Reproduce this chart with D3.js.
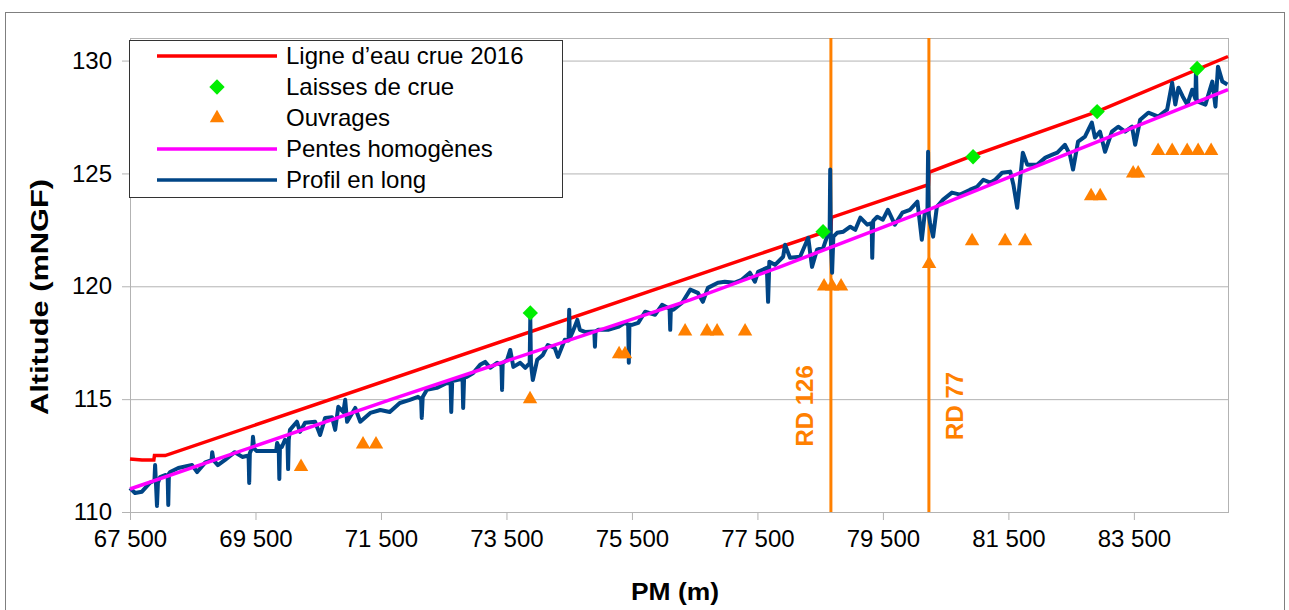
<!DOCTYPE html>
<meta charset="utf-8">
<style>
  body { margin: 0; background: #fff; }
  svg text { font-family: "Liberation Sans", Arial, sans-serif; }
</style>
<svg width="1289" height="610"></svg>
<script src="https://cdnjs.cloudflare.com/ajax/libs/d3/7.8.5/d3.min.js"></script>
<script>

// --- data ---
var xTicks = [67500, 69500, 71500, 73500, 75500, 77500, 79500, 81500, 83500];
var yTicks = [110, 115, 120, 125, 130];

// Ligne d'eau crue 2016
var ligneEau = [[67500,112.35],[67690,112.3],[67880,112.3],[67890,112.5],[68060,112.5],
  [78670,122.5],[78680,123.05],[80225,124.5],[80235,125.05],[80890,125.74],[82914,127.74],[85000,130.18]];

// Laisses de crue
var laisses = [[73880,118.82],[78546,122.42],[80937,125.74],[82914,127.74],[84508,129.65]];

// Ouvrages
var ouvrages = [[70226,112],[71214,113],[71421,113],[73876,115],[75295,117],[75390,117],
  [76347,118],[76697,118],[76857,118],[77303,118],[78562,120],[78690,120],[78833,120],
  [80236,121],[80921,122],[81447,122],[81766,122],[82818,124],[82962,124],[83488,125],[83568,125],
  [83886,126],[84110,126],[84349,126],[84524,126],[84731,126]];

// Pentes homogènes
var pentes = [[67500,111.02],[71640,114.97],[76430,119.4],[77860,120.86],[80220,123.39],[82914,126.4],[85000,128.71]];

// Profil en long
var profil = [[67500,111.06],[67580,110.84],[67690,110.9],[67820,111.3],[67890,111.4],[67900,112.08],[67915,111.2],
  [67930,110.27],[67945,111.3],[67980,111.55],[68060,111.64],[68100,111.6],[68110,110.31],[68120,111.7],[68140,111.77],
  [68270,111.95],[68490,112.08],[68570,111.77],[68700,112.2],[68800,112.3],[68810,112.65],[68830,112.3],[68900,112.08],
  [69010,112.3],[69170,112.65],[69290,112.44],[69390,112.5],[69400,111.29],[69410,112.6],[69450,112.88],[69460,113.33],
  [69480,112.8],[69520,112.7],[69830,112.7],[69845,113.06],[69870,112.9],[69880,111.46],[69890,112.9],[69920,112.88],
  [69970,113.2],[70010,113.1],[70020,111.9],[70030,113.2],[70050,113.64],[70160,114.0],[70210,113.55],[70290,113.95],
  [70450,114.0],[70530,113.41],[70610,114.17],[70720,114.2],[70770,113.64],[70820,114.66],[70900,114.43],[70930,114.97],
  [70960,114.0],[71090,114.61],[71170,114.0],[71330,114.39],[71490,114.52],[71640,114.43],[71800,114.83],[71960,114.97],
  [72090,115.1],[72140,115.0],[72150,114.17],[72165,115.1],[72230,115.41],[72390,115.5],[72550,115.72],[72610,115.7],
  [72620,114.43],[72635,115.8],[72710,115.85],[72800,115.9],[72810,114.61],[72825,115.95],[72870,115.99],[72970,116.16],
  [73080,116.52],[73160,116.65],[73240,116.39],[73350,116.61],[73420,116.5],[73430,115.41],[73440,116.6],[73510,116.74],
  [73560,117.18],[73610,116.43],[73720,116.61],[73800,116.39],[73870,116.6],[73880,118.6],[73890,116.6],[73920,115.85],
  [73990,116.74],[74080,116.96],[74160,117.4],[74270,117.27],[74320,116.87],[74430,117.63],[74490,117.6],[74500,118.96],
  [74510,117.7],[74550,117.94],[74630,118.51],[74670,118.07],[74750,117.98],[74900,118.0],[74910,117.32],[74920,118.0],
  [74960,118.07],[75120,118.07],[75280,118.2],[75390,118.38],[75440,118.3],[75450,116.61],[75460,118.3],[75500,118.29],
  [75600,118.38],[75710,118.87],[75870,118.74],[75980,119.18],[76100,119.0],[76110,118.07],[76120,119.0],[76160,118.96],
  [76300,119.27],[76430,119.85],[76550,119.71],[76630,119.31],[76710,119.93],[76870,120.16],[76980,120.2],[77140,120.16],
  [77250,120.29],[77380,120.6],[77460,120.2],[77510,120.64],[77650,120.82],[77670,119.31],[77690,121.09],[77780,120.95],
  [77910,121.31],[77940,121.84],[78020,121.26],[78180,121.31],[78310,122.15],[78370,120.86],[78450,121.62],[78550,121.71],
  [78630,122.37],[78650,122.2],[78660,125.17],[78670,122.0],[78690,120.6],[78710,122.2],[78770,122.37],[78870,122.42],
  [78980,122.64],[79060,122.5],[79140,123.04],[79250,122.73],[79320,122.8],[79330,121.26],[79345,122.9],[79410,123.08],
  [79500,122.95],[79580,123.39],[79690,122.73],[79810,123.26],[79930,123.39],[80050,123.75],[80120,122.06],[80170,123.3],
  [80210,123.4],[80220,125.96],[80230,123.2],[80250,122.82],[80300,122.2],[80360,123.52],[80460,123.84],[80600,124.15],
  [80730,124.06],[80890,124.28],[81000,124.41],[81100,124.72],[81210,124.59],[81290,124.72],[81400,125.03],[81530,125.08],
  [81580,124.5],[81640,123.48],[81690,124.81],[81730,125.92],[81800,125.39],[81960,125.39],[82090,125.7],[82200,125.83],
  [82280,125.92],[82400,126.27],[82480,125.83],[82530,125.17],[82610,126.41],[82720,126.63],[82830,127.25],[82880,126.59],
  [82960,126.85],[83040,125.96],[83150,126.85],[83250,127.07],[83360,126.85],[83470,127.07],[83520,126.27],[83600,127.38],
  [83730,127.69],[83890,127.52],[84030,127.83],[84110,129.02],[84160,128.05],[84210,128.8],[84280,128.4],[84350,128.05],
  [84430,128.71],[84480,128.3],[84490,129.6],[84500,128.3],[84520,128.18],[84640,128.05],[84750,129.07],[84800,127.96],
  [84840,129.73],[84910,129.07],[84990,128.94]];

// Routes (vertical markers)
var routes = [{nom: "RD 126", pm: 78671, dx: -18}, {nom: "RD 77", pm: 80233, dx: 34}];

// --- layout ---
var svg = d3.select("svg"),
    margin = {top: 38, right: 61, bottom: 98, left: 130},
    width = +svg.attr("width") - margin.left - margin.right,
    height = +svg.attr("height") - margin.top - margin.bottom;

// outer frame
svg.append("rect")
    .attr("x", 5.5).attr("y", 12.5)
    .attr("width", 1279).attr("height", 640)
    .attr("fill", "none").attr("stroke", "#7f7f7f");

var g = svg.append("g").attr("transform", "translate(" + margin.left + "," + margin.top + ")");

var x = d3.scaleLinear().domain([67500, 85000]).range([0, width]);
var y = d3.scaleLinear().domain([110, 131]).range([height, 0]);

var fr = d3.formatLocale({decimal: ",", thousands: " ", grouping: [3], currency: ["", ""]});
var fmt = fr.format(",d");

// plot frame (top / right)
g.append("rect")
    .attr("x", 0.5).attr("y", 0.5)
    .attr("width", width).attr("height", height)
    .attr("fill", "none").attr("stroke", "#b3b3b3");

// horizontal gridlines
g.append("g")
    .attr("class", "grid")
    .call(d3.axisLeft(y).tickValues(yTicks).tickSize(-width).tickFormat(""))
    .call(function(s) {
        s.select(".domain").remove();
        s.selectAll("line").attr("stroke", "#b3b3b3");
    });

// y axis
g.append("g")
    .call(d3.axisLeft(y).tickValues(yTicks).tickSize(8).tickPadding(10).tickFormat(d3.format("d")))
    .call(function(s) {
        s.select(".domain").attr("stroke", "#b3b3b3").attr("d", "M0.5," + height + "V0");
        s.selectAll("line").attr("stroke", "#b3b3b3");
        s.selectAll("text").attr("font-size", "24px").attr("fill", "#000").attr("font-family", "Liberation Sans, Arial, sans-serif");
    });

// x axis
g.append("g")
    .attr("transform", "translate(0," + height + ")")
    .call(d3.axisBottom(x).tickValues(xTicks).tickSize(8).tickPadding(10).tickFormat(fmt))
    .call(function(s) {
        s.select(".domain").attr("stroke", "#b3b3b3").attr("d", "M0,0.5H" + width);
        s.selectAll("line").attr("stroke", "#b3b3b3");
        s.selectAll("text").attr("font-size", "24px").attr("fill", "#000").attr("font-family", "Liberation Sans, Arial, sans-serif");
    });

// axis titles
g.append("text")
    .attr("transform", "translate(" + (-82) + "," + (height / 2 + 22) + ") rotate(-90)")
    .attr("text-anchor", "middle")
    .attr("font-size", "24px").attr("font-weight", "bold")
    .attr("textLength", 236).attr("lengthAdjust", "spacingAndGlyphs")
    .text("Altitude (mNGF)");

g.append("text")
    .attr("x", width / 2 - 4).attr("y", height + 88)
    .attr("text-anchor", "middle")
    .attr("font-size", "24px").attr("font-weight", "bold")
    .attr("textLength", 88).attr("lengthAdjust", "spacingAndGlyphs")
    .text("PM (m)");

// vertical road lines
var orange = "#ff8000";
routes.forEach(function(r) {
    g.append("line")
        .attr("x1", x(r.pm)).attr("x2", x(r.pm))
        .attr("y1", 0).attr("y2", height)
        .attr("stroke", orange).attr("stroke-width", 3);
    g.append("text")
        .attr("transform", "translate(" + (x(r.pm) + r.dx) + "," + y(114.7) + ") rotate(-90)")
        .attr("text-anchor", "middle")
        .attr("font-size", "24px").attr("font-weight", "bold")
        .attr("fill", orange)
        .text(r.nom);
});

var line = d3.line()
    .x(function(d) { return x(d[0]); })
    .y(function(d) { return y(d[1]); });

g.append("path")
    .attr("d", line(ligneEau))
    .attr("stroke", "#ff0000").attr("fill", "none").attr("stroke-width", 3.5);

g.append("path")
    .attr("d", line(profil))
    .attr("stroke", "#004586").attr("fill", "none").attr("stroke-width", 4)
    .attr("stroke-linejoin", "round");

g.append("path")
    .attr("d", line(pentes))
    .attr("stroke", "#ff00ff").attr("fill", "none").attr("stroke-width", 3.5);

var diamond = d3.symbol().type(d3.symbolDiamond2).size(150);
var triangle = d3.symbol().type(d3.symbolTriangle).size(90);

g.selectAll(".laisse").data(laisses).enter().append("path")
    .attr("class", "laisse")
    .attr("transform", function(d) { return "translate(" + x(d[0]) + "," + y(d[1]) + ")"; })
    .attr("d", diamond)
    .attr("fill", "#00ee00");

g.selectAll(".ouvrage").data(ouvrages).enter().append("path")
    .attr("class", "ouvrage")
    .attr("transform", function(d) { return "translate(" + x(d[0]) + "," + y(d[1]) + ")"; })
    .attr("d", triangle)
    .attr("fill", orange);

// legend
var legend = svg.append("g").attr("transform", "translate(129,40)");
legend.append("rect")
    .attr("x", 0.5).attr("y", 0.5)
    .attr("width", 433).attr("height", 157)
    .attr("fill", "#fff").attr("stroke", "#333");

var legendItems = [
    {label: "Ligne d\u2019eau crue 2016", type: "line", color: "#ff0000"},
    {label: "Laisses de crue", type: "diamond", color: "#00ee00"},
    {label: "Ouvrages", type: "triangle", color: orange},
    {label: "Pentes homog\u00e8nes", type: "line", color: "#ff00ff"},
    {label: "Profil en long", type: "line", color: "#004586"}
];

legendItems.forEach(function(it, i) {
    var cy = 16 + i * 31;
    if (it.type == "line") {
        legend.append("line")
            .attr("x1", 28).attr("x2", 148).attr("y1", cy).attr("y2", cy)
            .attr("stroke", it.color).attr("stroke-width", 3.5);
    } else {
        legend.append("path")
            .attr("transform", "translate(88," + cy + ")")
            .attr("d", it.type == "diamond" ? diamond : triangle)
            .attr("fill", it.color);
    }
    legend.append("text")
        .attr("x", 157).attr("y", cy + 8)
        .attr("font-size", "24px")
        .text(it.label);
});

</script>
